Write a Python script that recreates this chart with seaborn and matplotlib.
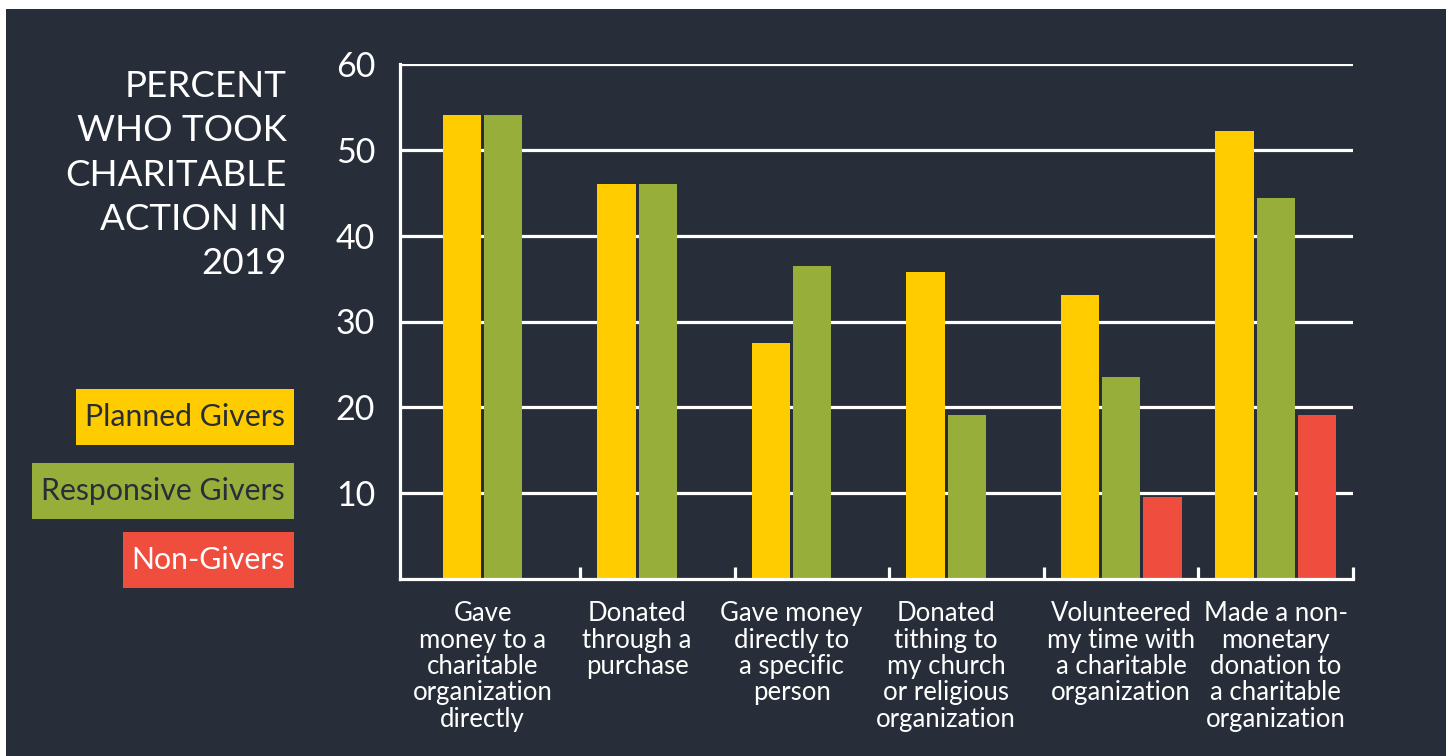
import pandas as pd
import matplotlib.pyplot as plt
import seaborn as sns
from matplotlib.patches import Rectangle

# Data
categories = [
    "Gave\nmoney to a\ncharitable\norganization\ndirectly",
    "Donated\nthrough a\npurchase",
    "Gave money\ndirectly to\na specific\nperson",
    "Donated\ntithing to\nmy church\nor religious\norganization",
    "Volunteered\nmy time with\na charitable\norganization",
    "Made a non-\nmonetary\ndonation to\na charitable\norganization",
]
groups = ["Planned Givers", "Responsive Givers", "Non-Givers"]
planned = [54.0, 46.0, 27.5, 35.8, 33.1, 52.2]
responsive = [54.0, 46.0, 36.5, 19.1, 23.5, 44.4]
non_givers = [None, None, None, None, 9.5, 19.1]
y_ticks = [10, 20, 30, 40, 50, 60]
title = "PERCENT\nWHO TOOK\nCHARITABLE\nACTION IN\n2019"

colors = ["#ffcc00", "#98ae3a", "#ef4e3e"]
label_colors = ["#272e39", "#272e39", "#ffffff"]
BG = "#272e39"
W, H = 1449, 756

rows = []
for i, cat in enumerate(categories):
    for grp, vals in zip(groups, [planned, responsive, non_givers]):
        if vals[i] is not None:
            rows.append({"category": cat, "group": grp, "value": vals[i]})
df = pd.DataFrame(rows)

sns.set_style("dark")
plt.rcParams["font.family"] = ["Lato", "DejaVu Sans"]

fig = plt.figure(figsize=(W / 100, H / 100), dpi=100, facecolor="white")
fig.patches.append(Rectangle((6 / W, 0), 1440 / W, 747 / H,
                             transform=fig.transFigure, facecolor=BG,
                             edgecolor="none", zorder=-1))

ax = fig.add_axes([400 / W, 177 / H, 953 / W, 515 / H])
ax.set_facecolor("none")

sns.barplot(data=df, x="category", y="value", hue="group", order=categories,
            hue_order=groups, palette=colors, errorbar=None, width=0.8,
            gap=0.07, saturation=1, legend=False, edgecolor="none",
            linewidth=0, ax=ax)

ax.set_xlim(-0.668, 5.5)
ax.set_ylim(0, 60)
ax.set_yticks(y_ticks)
ax.set_xlabel("")
ax.set_ylabel("")

# category labels sit under the middle of the bars that are drawn
centers = {}
for p in ax.patches:
    if p.get_height() > 0:
        cx = p.get_x() + p.get_width() / 2
        centers.setdefault(round(cx), []).append(cx)
label_pos = [sum(centers[i]) / len(centers[i]) for i in range(len(categories))]
ax.set_xticks(label_pos)
ax.set_xticklabels(categories)

# grid and spines
ax.set_axisbelow(True)
ax.grid(False)
for y in y_ticks:
    ax.axhline(y, color="white", lw=2.3, zorder=0.5)
for side in ["top", "right"]:
    ax.spines[side].set_visible(False)
for side in ["left", "bottom"]:
    ax.spines[side].set_color("white")
    ax.spines[side].set_linewidth(2.3)

ax.tick_params(axis="y", length=0, pad=18, labelsize=24.5, labelcolor="white")
ax.tick_params(axis="x", which="major", length=0, pad=16, labelsize=18.5,
               labelcolor="white")
for lbl in ax.get_xticklabels():
    lbl.set_linespacing(1.07)
    lbl.set_va("top")

# small upward ticks between the groups
ax.set_xticks([i + 0.5 for i in range(len(categories))], minor=True)
ax.tick_params(axis="x", which="minor", bottom=True, direction="in", length=9,
               width=2.3, color="white")

fig.text(287 / W, 1 - 70 / H, title, ha="right", va="top", color="white",
         fontsize=26.5, linespacing=1.42)

# legend boxes: right-aligned blocks with the label centred inside
legend_y = [417, 491, 560]
fig.canvas.draw()
renderer = fig.canvas.get_renderer()
for grp, col, tcol, ly in zip(groups, colors, label_colors, legend_y):
    t = fig.text(0, 1 - ly / H, grp, ha="center", va="center",
                 color=tcol, fontsize=21.8, zorder=3)
    tw = t.get_window_extent(renderer).width
    bw, bh = tw + 18, 56
    x0 = 294 - bw
    t.set_x((x0 + bw / 2) / W)
    fig.patches.append(Rectangle((x0 / W, 1 - (ly + bh / 2) / H), bw / W,
                                 bh / H, transform=fig.transFigure,
                                 facecolor=col, edgecolor="none", zorder=2))

fig.savefig("out.png", dpi=100, facecolor="white")
